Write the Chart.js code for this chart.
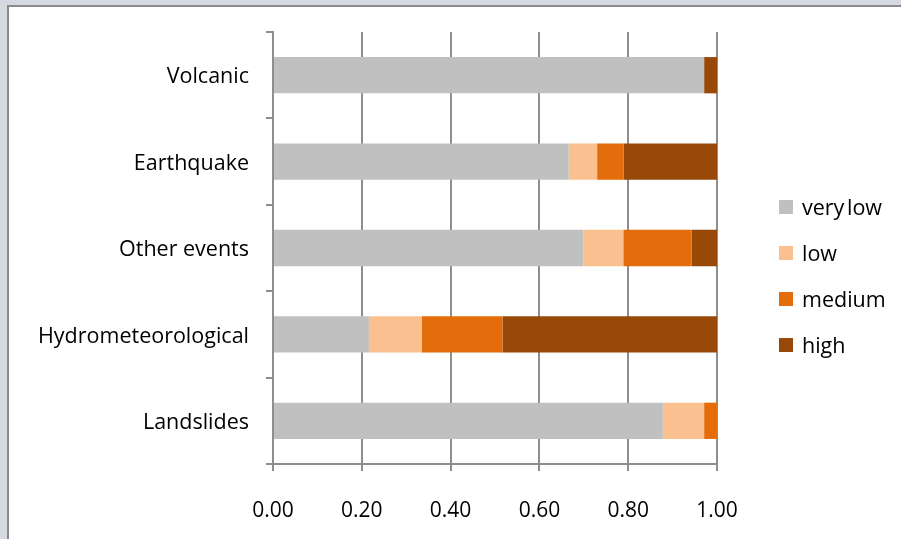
<!DOCTYPE html>
<html>
<head>
<meta charset="utf-8">
<script src="https://cdn.jsdelivr.net/npm/chart.js@4"></script>
<style>
  html, body { margin: 0; padding: 0; }
  body { width: 901px; height: 539px; background: #d5dae2; position: relative; overflow: hidden; }
  #panel { position: absolute; left: 7px; top: 5px; right: -4px; bottom: -4px; background: #fff; border: 2px solid #8a8a8a; }
  #wrap { position: absolute; left: 0; top: 0; width: 901px; height: 539px; }
  #legend { position: absolute; left: 779px; top: 0; font-family: "Open Sans", sans-serif; font-size: 21.5px; color: #000; }
  .item { position: absolute; left: 0; white-space: nowrap; height: 20px; line-height: 20px; }
  .box { position: absolute; left: 0; top: 3px; width: 14px; height: 14px; }
  .txt { position: absolute; left: 23px; top: 0px; }
  .txt span { margin-left: -3px; }
</style>
</head>
<body>
<div id="panel"></div>
<div id="wrap"><canvas id="myChart" width="901" height="539"></canvas></div>
<div id="legend"></div>
<script>
// categories top to bottom
const categories = ['Volcanic', 'Earthquake', 'Other events', 'Hydrometeorological', 'Landslides'];
const seriesNames = ['very low', 'low', 'medium', 'high'];
const seriesColors = ['#c0c0c0', '#fac090', '#e46c0a', '#984807'];

// shares per category, same order as categories
const veryLow = [0.971, 0.666, 0.699, 0.216, 0.878];
const low     = [0.000, 0.064, 0.090, 0.119, 0.093];
const medium  = [0.000, 0.060, 0.154, 0.182, 0.029];
const high    = [0.029, 0.210, 0.057, 0.483, 0.000];

const xTicks = [0, 0.2, 0.4, 0.6, 0.8, 1.0];

const seriesData = [veryLow, low, medium, high];
const gridColor = '#8e8e8e';
const yFont = { family: '"Open Sans", sans-serif', size: 21.5 };
const xFont = { family: '"Open Sans", sans-serif', size: 21 };

var ctx = document.getElementById('myChart').getContext('2d');
var chart = new Chart(ctx, {
  type: 'bar',
  data: {
    labels: categories,
    datasets: seriesNames.map((name, i) => ({
      label: name,
      data: seriesData[i],
      backgroundColor: seriesColors[i],
      borderWidth: 0,
      barPercentage: 0.42,
      categoryPercentage: 1.0
    }))
  },
  options: {
    indexAxis: 'y',
    responsive: false,
    animation: false,
    layout: { padding: { left: 0, right: 184, top: 32, bottom: 0 } },
    plugins: { legend: { display: false }, tooltip: { enabled: false } },
    scales: {
      x: {
        stacked: true,
        min: 0,
        max: 1,
        afterBuildTicks: axis => { axis.ticks = xTicks.map(v => ({ value: v })); },
        afterFit: axis => { axis.height = 75; },
        ticks: {
          font: xFont,
          color: '#000',
          padding: 27,
          maxRotation: 0,
          callback: v => Number(v).toFixed(2)
        },
        grid: { color: gridColor, lineWidth: 2, tickLength: 7, drawTicks: true },
        border: { color: gridColor, width: 2 }
      },
      y: {
        stacked: true,
        offset: true,
        afterFit: axis => { axis.width = 273; },
        ticks: { font: yFont, color: '#000', padding: 17, labelOffset: 2 },
        grid: { offset: true, drawOnChartArea: false, color: gridColor, lineWidth: 2, tickLength: 7 },
        border: { color: gridColor, width: 2 }
      }
    }
  }
});

// legend built from the series arrays (tight word gap like the original)
const legendDiv = document.getElementById('legend');
seriesNames.forEach((name, i) => {
  const html = name.split(' ').map((w, k) => k ? `<span>${w}</span>` : w).join(' ');
  legendDiv.innerHTML += `<div class="item" style="top:${197 + i * 46}px"><div class="box" style="background:${seriesColors[i]}"></div><div class="txt">${html}</div></div>`;
});
</script>
</body>
</html>
